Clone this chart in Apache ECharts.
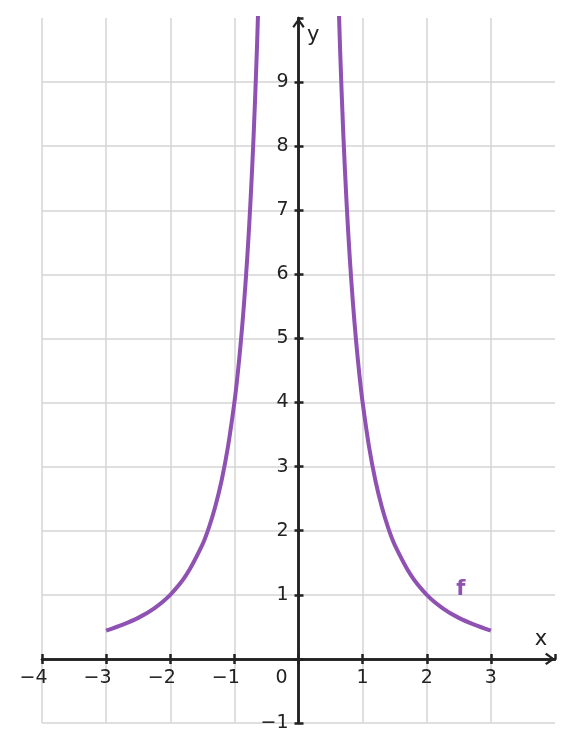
<!DOCTYPE html>
<html>
<head>
<meta charset="utf-8">
<script src="https://cdn.jsdelivr.net/npm/echarts@6/dist/echarts.min.js"></script>
<style>
  html, body { margin: 0; padding: 0; background: #fff; }
  #chart { width: 573px; height: 752px; }
</style>
</head>
<body>
<div id="chart"></div>
<script>
// curve f (two branches)
const leftX  = [-3, -2.75, -2.5, -2.25, -2, -1.75, -1.5, -1.4, -1.3, -1.2, -1.1, -1, -0.95, -0.9, -0.85, -0.8, -0.75, -0.7, -0.65, -0.6];
const leftY  = [0.44, 0.53, 0.64, 0.79, 1.0, 1.31, 1.78, 2.04, 2.37, 2.78, 3.31, 4.0, 4.43, 4.94, 5.54, 6.25, 7.11, 8.16, 9.47, 11.1];
const rightX = [0.6, 0.65, 0.7, 0.75, 0.8, 0.85, 0.9, 0.95, 1, 1.1, 1.2, 1.3, 1.4, 1.5, 1.75, 2, 2.25, 2.5, 2.75, 3];
const rightY = [11.1, 9.47, 8.16, 7.11, 6.25, 5.54, 4.94, 4.43, 4.0, 3.31, 2.78, 2.37, 2.04, 1.78, 1.31, 1.0, 0.79, 0.64, 0.53, 0.44];

const xRange = [-4, 4];
const yRange = [-1, 10];
const fLabelAt = [2.53, 1.09];
const xNameAt = [3.78, 0.3];
const yNameAt = [0.23, 9.72];

const ink = '#222222';
const purple = '#8f52b2';
const font = 'DejaVu Sans';
const arrow = 'path://M0,9 L6.5,0 L13,9 L11.2,10.6 L6.5,3.8 L1.8,10.6 Z';

const minus = v => String(v).replace('-', '\u2212');

const chart = echarts.init(document.getElementById('chart'));

const axisLine = (withArrow) => ({
  onZero: false,
  symbol: withArrow ? ['none', arrow] : 'none',
  symbolSize: [13, 10],
  symbolOffset: [0, -5],
  lineStyle: { color: ink, width: 2.5 }
});

const baseX = {
  type: 'value', min: xRange[0], max: xRange[1], interval: 1
};
const baseY = {
  type: 'value', min: yRange[0], max: yRange[1], interval: 1
};

const option = {
  animation: false,
  backgroundColor: '#fff',
  grid: { left: 42, right: 18, top: 18, bottom: 29 },
  xAxis: [
    Object.assign({}, baseX, {
      position: 'bottom',
      axisLine: axisLine(true),
      axisTick: { length: 5, lineStyle: { color: ink, width: 2.5 } },
      axisLabel: {
        margin: 10, fontSize: 19, fontFamily: font, color: ink,
        showMaxLabel: false,
        formatter: v => v === 0 ? '{o|0}' : (v < 0 ? '{n|' + minus(v) + '}' : String(v)),
        rich: {
          o: { fontSize: 19, fontFamily: font, color: ink, padding: [0, 34, 0, 0] },
          n: { fontSize: 19, fontFamily: font, color: ink, padding: [0, 17, 0, 0] }
        }
      },
      splitLine: { show: true, showMaxLine: false, lineStyle: { color: '#d4d4d4', width: 1.5 } }
    }),
    Object.assign({}, baseX, {
      position: 'top',
      axisLine: axisLine(false),
      axisTick: { length: 5, lineStyle: { color: ink, width: 2.5 } },
      axisLabel: { show: false },
      splitLine: { show: false }
    })
  ],
  yAxis: [
    Object.assign({}, baseY, {
      position: 'left',
      axisLine: axisLine(true),
      axisTick: { length: 4, lineStyle: { color: ink, width: 2.5 } },
      axisLabel: {
        margin: 10, fontSize: 19, fontFamily: font, color: ink,
        showMaxLabel: false,
        formatter: v => v === 0 ? '' : minus(v)
      },
      splitLine: { show: true, showMaxLine: false, lineStyle: { color: '#d4d4d4', width: 1.5 } }
    }),
    Object.assign({}, baseY, {
      position: 'right',
      axisLine: axisLine(false),
      axisTick: { length: 5, lineStyle: { color: ink, width: 2.5 } },
      axisLabel: { show: false },
      splitLine: { show: false }
    })
  ],
  series: [
    {
      name: 'f', type: 'line', xAxisIndex: 0, yAxisIndex: 0,
      data: leftX.map((x, i) => [x, leftY[i]]),
      smooth: 0.3, showSymbol: false, clip: true,
      lineStyle: { color: purple, width: 4 }, z: 1
    },
    {
      name: 'f', type: 'line', xAxisIndex: 0, yAxisIndex: 0,
      data: rightX.map((x, i) => [x, rightY[i]]),
      smooth: 0.3, showSymbol: false, clip: true,
      lineStyle: { color: purple, width: 4 }, z: 1
    },
    {
      type: 'scatter', xAxisIndex: 0, yAxisIndex: 0,
      data: [fLabelAt], symbolSize: 0, silent: true,
      itemStyle: { opacity: 1, color: purple },
      label: {
        show: true, position: 'inside', formatter: 'f',
        fontSize: 21, fontWeight: 'bold', fontFamily: font, color: purple
      }
    }
  ]
};

chart.setOption(option);

// move the axes onto the origin by offsetting them from the grid edges
const lo = chart.convertToPixel({ gridIndex: 0 }, [xRange[0], yRange[0]]);
const hi = chart.convertToPixel({ gridIndex: 0 }, [xRange[1], yRange[1]]);
const zero = chart.convertToPixel({ gridIndex: 0 }, [0, 0]);
const xp = chart.convertToPixel({ gridIndex: 0 }, xNameAt);
const yp = chart.convertToPixel({ gridIndex: 0 }, yNameAt);

chart.setOption({
  xAxis: [{ offset: zero[1] - lo[1] }, { offset: hi[1] - zero[1] }],
  yAxis: [{ offset: lo[0] - zero[0] }, { offset: zero[0] - hi[0] }],
  graphic: [
    { type: 'text', x: xp[0], y: xp[1], style: { text: 'x', fontSize: 21, fontFamily: font, fill: ink, align: 'center', verticalAlign: 'middle' } },
    { type: 'text', x: yp[0], y: yp[1], style: { text: 'y', fontSize: 21, fontFamily: font, fill: ink, align: 'center', verticalAlign: 'middle' } }
  ]
});
</script>
</body>
</html>
